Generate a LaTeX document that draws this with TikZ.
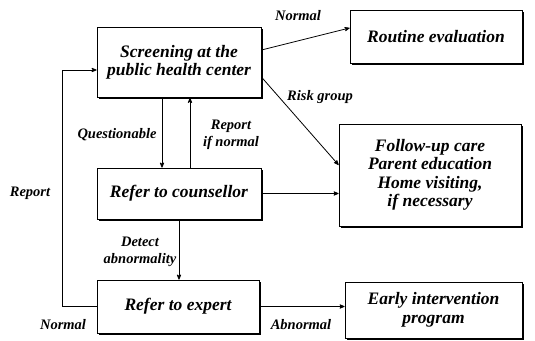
\documentclass[tikz,border=0pt]{standalone}
\usepackage{fontspec}
\setmainfont{Liberation Serif}
\usetikzlibrary{arrows,shadows}
\begin{document}
\begin{tikzpicture}[x=1pt,y=-1pt,>=stealth',line width=0.8pt]

  \tikzstyle{box}=[draw,fill=white,align=center,inner sep=2pt,
    font=\fontsize{17.5}{18.5}\selectfont\bfseries\itshape,
    drop shadow={shadow xshift=1.6pt,shadow yshift=-1.6pt,fill=black,opacity=1}]
  \tikzstyle{lbl}=[align=center,font=\fontsize{14.5}{17}\selectfont\bfseries\itshape]

  \useasboundingbox (0,0) rectangle (535,340);

  \begin{scope}

    \node [box,minimum width=164pt,minimum height=70pt] (b1) at (179,62.5) {Screening at the\\public health center};

    \node [box,minimum width=172pt,minimum height=53pt] (b2) at (436,36.5) {Routine evaluation};

    \node [box,minimum width=182pt,minimum height=102pt] (b3) at (430,175) {Follow-up care\\Parent education\\Home visiting,\\if necessary};

    \node [box,minimum width=164pt,minimum height=51pt] (b4) at (179,193.5) {Refer to counsellor};

    \node [box,minimum width=162pt,minimum height=53pt] (b5) at (178,306.5) {Refer to expert};

    \node [box,minimum width=177pt,minimum height=56pt] (b6) at (433.5,310) {Early intervention\\program};

    \draw [->] ([yshift=12.5pt]b1.east) -- ([yshift=8.5pt]b2.west);
    \draw [->] ([yshift=-14.5pt]b1.east) -- ([yshift=10pt]b3.west);
    \draw [->] ([xshift=-17pt]b1.south) -- ([xshift=-17pt]b4.north);
    \draw [->] ([xshift=11pt]b4.north) -- ([xshift=11pt]b1.south);
    \draw [->] (b4.east) -- (b4.east -| b3.west);
    \draw [->] (b4.south) -- (b4.south |- b5.north);
    \draw [->] (b5.east) -- (b5.east -| b6.west);
    \draw [->] (b5.west) -- ++(-34,0) |- ([yshift=-7.5pt]b1.west);

    \node [lbl] (l1) at (298,16) {Normal};
    \node [lbl] (l2) at (320,97) {Risk group};
    \node [lbl] (l3) at (117,135) {Questionable};
    \node [lbl] (l4) at (231,135) {Report\\if normal};
    \node [lbl] (l5) at (30,193) {Report};
    \node [lbl] (l6) at (140,252) {Detect\\abnormality};
    \node [lbl] (l7) at (63,325) {Normal};
    \node [lbl] (l8) at (301,325) {Abnormal};

  \end{scope}

\end{tikzpicture}
\end{document}
